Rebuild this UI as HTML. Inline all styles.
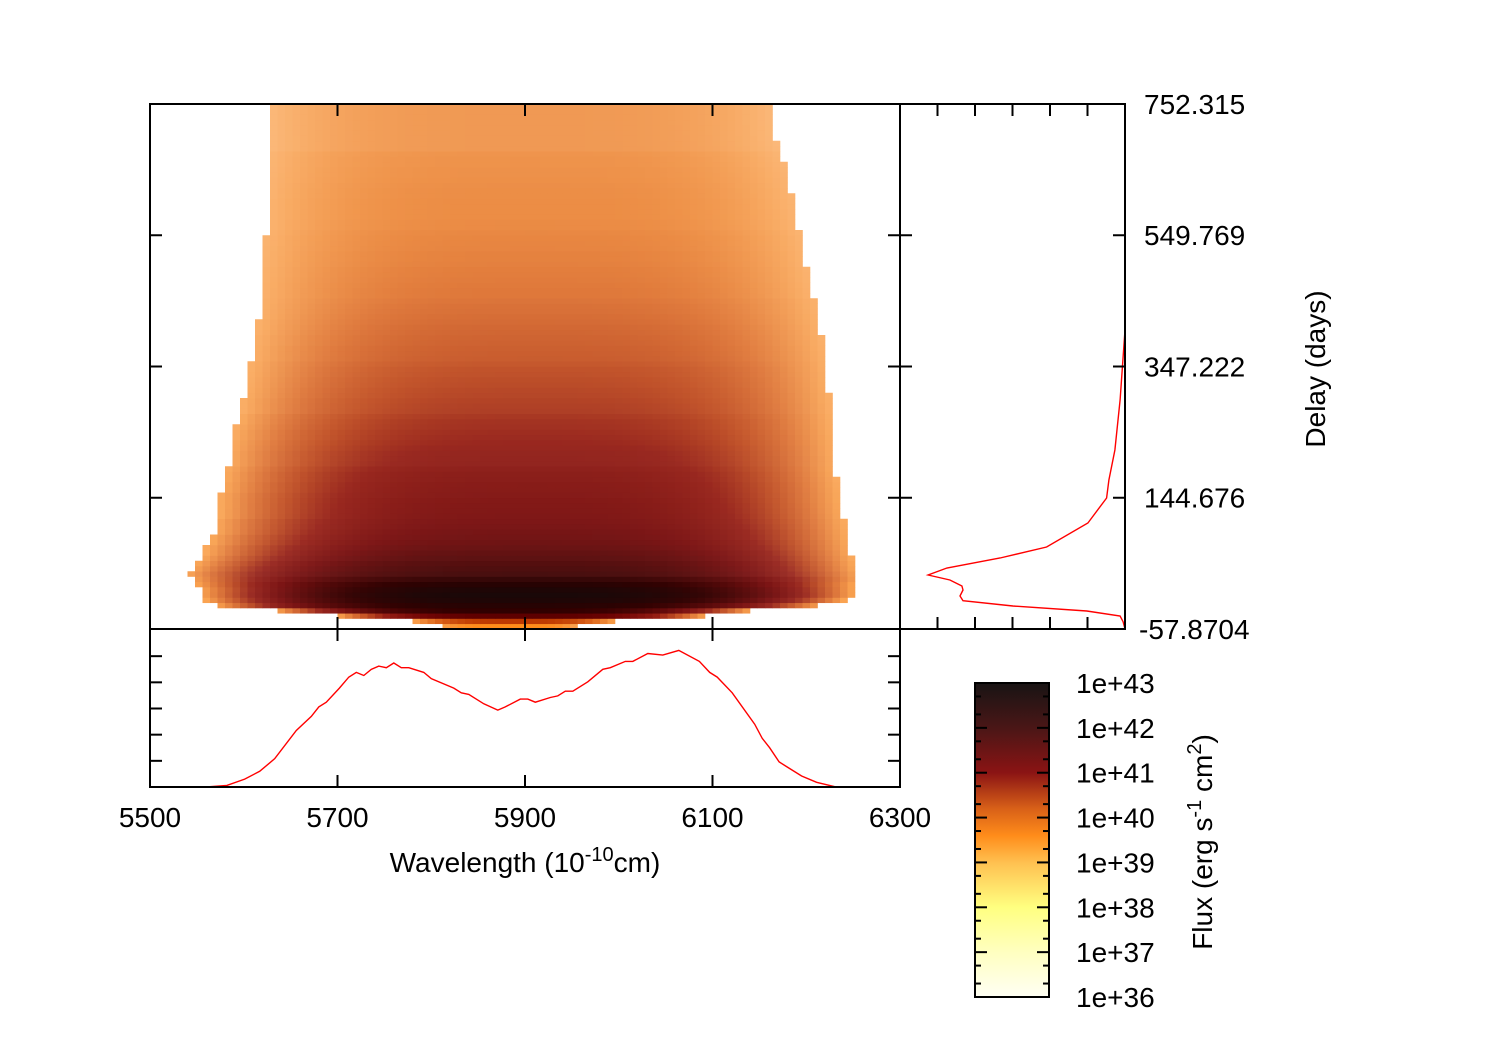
<!DOCTYPE html>
<html><head><meta charset="utf-8"><style>
body{margin:0;background:#fff}
svg{display:block}
text{font-family:"Liberation Sans",sans-serif;font-size:28px;fill:#000}
</style></head><body>
<svg id="chart" width="1500" height="1050" viewBox="0 0 1500 1050" xmlns="http://www.w3.org/2000/svg">
<defs>
<linearGradient id="cbgrad" x1="0" y1="1" x2="0" y2="0">
<stop offset="0" stop-color="#fffff4"/>
<stop offset="0.143" stop-color="#ffffc0"/>
<stop offset="0.286" stop-color="#ffff80"/>
<stop offset="0.429" stop-color="#ffc050"/>
<stop offset="0.514" stop-color="#ff8c1a"/>
<stop offset="0.6" stop-color="#d86018"/>
<stop offset="0.714" stop-color="#8b1414"/>
<stop offset="0.857" stop-color="#4a1616"/>
<stop offset="1" stop-color="#181414"/>
</linearGradient>
</defs>
<g id="heat"></g>
<polyline id="specLine" fill="none" stroke="#ff0000" stroke-width="1.4"/>
<polyline id="delayLine" fill="none" stroke="#ff0000" stroke-width="1.4"/>
<g id="axes" stroke="#000" stroke-width="2" fill="none">
<rect x="150" y="104" width="750" height="525"/>
<rect x="900" y="104" width="225" height="525"/>
<rect x="150" y="629" width="750" height="158"/>
<rect x="975" y="683" width="74" height="314" fill="url(#cbgrad)"/>
</g>
<g id="ticks" stroke="#000" stroke-width="2"></g>
<g id="labels"></g>
<text x="525" y="872" text-anchor="middle">Wavelength (10<tspan dy="-11" font-size="20">-10</tspan><tspan dy="11">cm)</tspan></text>
<text transform="translate(1325,369) rotate(-90)" text-anchor="middle">Delay (days)</text>
<text transform="translate(1212,842) rotate(-90)" text-anchor="middle">Flux (erg s<tspan dy="-11" font-size="20">-1</tspan><tspan dy="11"> cm</tspan><tspan dy="-11" font-size="20">2</tspan><tspan dy="11">)</tspan></text>
</svg>
<script>
// spectrum (bottom panel)
const specWl=[5500,5560,5582,5601,5617,5633,5656,5672,5680,5688,5702,5712,5720,5728,5736,5744,5752,5760,5768,5776,5792,5800,5824,5832,5840,5856,5871,5879,5895,5903,5911,5927,5935,5943,5951,5967,5983,5991,6007,6015,6031,6047,6064,6086,6097,6105,6121,6145,6153,6161,6171,6179,6195,6211,6232,6300];
const specVal=[0,0,0.01,0.05,0.10,0.18,0.36,0.45,0.51,0.54,0.63,0.70,0.73,0.71,0.75,0.77,0.76,0.79,0.76,0.76,0.73,0.69,0.63,0.60,0.59,0.53,0.49,0.51,0.56,0.56,0.54,0.57,0.58,0.61,0.61,0.67,0.75,0.76,0.80,0.80,0.85,0.84,0.87,0.80,0.73,0.70,0.60,0.40,0.31,0.25,0.16,0.13,0.07,0.03,0,0];
// delay profile (right panel)
const delayDays=[403.5,295.5,218.4,172,144.3,105.7,68.7,51.7,36.3,25.5,17.7,8.5,2.3,-7,-14.2,-22.4,-30.1,-37.8,-46.6,-57.9];
const delayFlux=[0,0.13,0.27,0.43,0.49,0.99,2.09,3.33,4.75,5.25,4.67,4.35,4.32,4.4,4.32,2.99,1.02,0.13,0.05,0];
// heatmap rows (bottom row first): centre log-flux, left/right wavelength extent, fill fraction
const rowLevel=[39.6,40.5,41.8,42.5,42.7,42.9,43.0,42.9,42.7,42.5,42.3,42.2,42.1,42.0,41.9,41.8,41.7,41.65,41.6,41.55,41.5,
41.45,41.42,41.4,41.37,41.35,41.32,41.3,41.27,41.25,41.2,
41.15,41.12,41.1,41.05,41.0,40.98,40.95,40.92,40.9,40.85,
40.8,40.78,40.75,40.72,40.7,40.67,40.65,40.62,40.6,40.55,
40.5,40.48,40.46,40.44,40.42,40.4,40.38,40.35,40.32,40.3,40.28,40.25,
40.2,40.2,40.18,40.17,40.15,40.14,40.12,40.1,40.1,40.08,40.07,40.06,40.05,
40.02,40.02,40.0,40.0,40.0,40.0,40.0,40.0,40.0,39.98,39.98,39.98,39.97,39.97,39.96,
39.95,39.95,39.95,39.95,39.95,39.95,39.95,39.95,39.95];
const rowLeft=[5811,5781,5700,5635,5571,5560,5555,5555,5550,5545,5540,5545,5550,5555,5560,5560,5565,5565,5570,5570,5570,
5575,5575,5575,5575,5575,5578,5578,5580,5580,5582,
5585,5585,5585,5587,5588,5590,5590,5592,5595,5595,
5600,5600,5600,5602,5603,5604,5605,5606,5607,5607,
5610,5610,5610,5612,5612,5614,5615,5615,5617,5617,5618,5618,
5620,5620,5620,5620,5621,5621,5622,5622,5623,5623,5624,5624,5625,
5625,5625,5625,5625,5625,5625,5626,5626,5626,5627,5627,5628,5628,5628,5628,
5630,5630,5630,5630,5630,5630,5630,5630,5630];
const rowRight=[5954,5996,6092,6140,6215,6240,6250,6250,6250,6255,6255,6252,6250,6248,6246,6245,6244,6243,6242,6241,6240,
6238,6237,6236,6235,6235,6234,6233,6232,6231,6230,
6230,6230,6229,6229,6228,6228,6227,6227,6226,6226,
6225,6225,6224,6224,6223,6223,6222,6222,6221,6221,
6220,6219,6218,6217,6216,6215,6214,6213,6212,6211,6210,6210,
6205,6204,6203,6202,6201,6200,6199,6198,6197,6196,6195,6194,6192,
6190,6189,6188,6187,6186,6185,6184,6183,6182,6181,6180,6178,6176,6174,6172,
6170,6168,6167,6166,6166,6165,6165,6165,6165];
const rowFill=[1,1,1,1,1,1,1,1,1,0.95,0.9,0.9,0.9,0.88,0.88,0.87,0.87,0.86,0.86,0.85,0.85,
0.85,0.85,0.85,0.85,0.84,0.84,0.84,0.83,0.83,0.82,
0.8,0.8,0.8,0.8,0.8,0.79,0.79,0.78,0.78,0.77,
0.75,0.75,0.75,0.74,0.74,0.73,0.73,0.72,0.72,0.71,
0.7,0.7,0.7,0.69,0.69,0.68,0.68,0.67,0.67,0.66,0.66,0.65,
0.65,0.65,0.65,0.64,0.64,0.64,0.63,0.63,0.63,0.62,0.62,0.62,0.61,
0.6,0.6,0.6,0.6,0.6,0.6,0.59,0.59,0.58,0.58,0.57,0.57,0.56,0.56,0.55,
0.5,0.5,0.5,0.5,0.5,0.5,0.5,0.5,0.5];
const xTickLabels=["5500","5700","5900","6100","6300"];
const yTickLabels=["-57.8704","144.676","347.222","549.769","752.315"];
const cbLabels=["1e+36","1e+37","1e+38","1e+39","1e+40","1e+41","1e+42","1e+43"];

const NS="http://www.w3.org/2000/svg";
const X0=150,X1=900,Y0=629,Y1=104;
const WL0=5500,WL1=6300,D0=-57.8704,D1=752.315;
const xs=w=>X0+(w-WL0)/(WL1-WL0)*(X1-X0);
const ys=d=>Y0-(d-D0)/(D1-D0)*(Y0-Y1);
const specY=v=>787-v*157;
const fluxX=u=>1125-u*37.5;
function mk(tag,attrs,parent){const e=document.createElementNS(NS,tag);for(const k in attrs)e.setAttribute(k,attrs[k]);parent.appendChild(e);return e;}

const stops=[[36,[255,255,244]],[37,[255,255,192]],[38,[255,255,128]],[39,[255,192,80]],[39.6,[255,140,26]],[39.8,[245,125,14]],[40.2,[214,84,6]],[40.6,[180,48,0]],[41,[139,10,0]],[41.5,[112,0,0]],[42,[80,0,0]],[42.5,[48,0,0]],[43,[26,8,8]]];
function cmap(l){
  if(l<=stops[0][0])return stops[0][1];
  for(let i=1;i<stops.length;i++){if(l<=stops[i][0]){const a=stops[i-1],b=stops[i];const f=(l-a[0])/(b[0]-a[0]);return a[1].map((c,j)=>c+(b[1][j]-c)*f);}}
  return stops[stops.length-1][1];
}
const heat=document.getElementById('heat');
const NC=100,NR=rowLevel.length;
const cw=(WL1-WL0)/NC,rh=(D1-D0)/NR;
for(let r=0;r<NR;r++){
  const L=rowLeft[r],R=rowRight[r],c=(L+R)/2,h=(R-L)/2;
  for(let k=0;k<NC;k++){
    const w=WL0+(k+0.5)*cw;
    if(w<L||w>R)continue;
    const t=Math.abs(w-c)/h;
    const edge=39.75;
    const lvl=edge+(rowLevel[r]-edge)*(1-Math.pow(t,3));
    let col=cmap(lvl);
    const fill=rowFill[r]*(1-0.45*Math.pow(t,4));
    const m=(1-fill)*0.6;
    col=col.map(v=>Math.round(v+(255-v)*m));
    const x=xs(WL0+k*cw),y=ys(D0+(r+1)*rh);
    const rect=mk('rect',{x:x.toFixed(2),y:y.toFixed(2),width:(xs(WL0+(k+1)*cw)-x+0.3).toFixed(2),height:(ys(D0+r*rh)-y+0.3).toFixed(2),fill:`rgb(${col.join(',')})`},heat);
    
    
  }
}
document.getElementById('specLine').setAttribute('points',specWl.map((w,i)=>xs(w).toFixed(1)+','+specY(specVal[i]).toFixed(1)).join(' '));
document.getElementById('delayLine').setAttribute('points',delayDays.map((d,i)=>fluxX(delayFlux[i]).toFixed(1)+','+ys(d).toFixed(1)).join(' '));

const tk=document.getElementById('ticks');
function tick(x1,y1,x2,y2){const l=mk('line',{x1,y1,x2,y2},tk);}
const lab=document.getElementById('labels');
xTickLabels.forEach((s,i)=>{
  const x=xs(+s);
  if(i>0&&i<xTickLabels.length-1){tick(x,104,x,116);tick(x,629,x,617);tick(x,629,x,641);tick(x,787,x,775);}
  const t=mk('text',{x:x,y:827,'text-anchor':'middle'},lab);t.textContent=s;
  
});
yTickLabels.forEach((s,i)=>{
  const y=ys(+s);
  if(i>0&&i<yTickLabels.length-1){tick(150,y,162,y);tick(900,y,888,y);tick(900,y,912,y);tick(1125,y,1113,y);}
  const t=mk('text',{x:s[0]==='-'?1139:1144,y:y+10},lab);t.textContent=s;
  
});
for(let i=1;i<6;i++){const y=787-i*157/6;tick(150,y,162,y);tick(900,y,888,y);
  const x=1125-i*37.5;tick(x,629,x,617);tick(x,104,x,116);}
cbLabels.forEach((s,i)=>{
  const y=997-i*314/7;
  if(i>0&&i<7){tick(975,y,987,y);tick(1049,y,1037,y);}
  if(i<7){[0.3,0.7].forEach(f=>{const yy=y-f*314/7;tick(975,yy,981,yy);tick(1049,yy,1043,yy);});}
  const t=mk('text',{x:1076,y:y+10},lab);t.textContent=s;
  
});
</script>
</body></html>
